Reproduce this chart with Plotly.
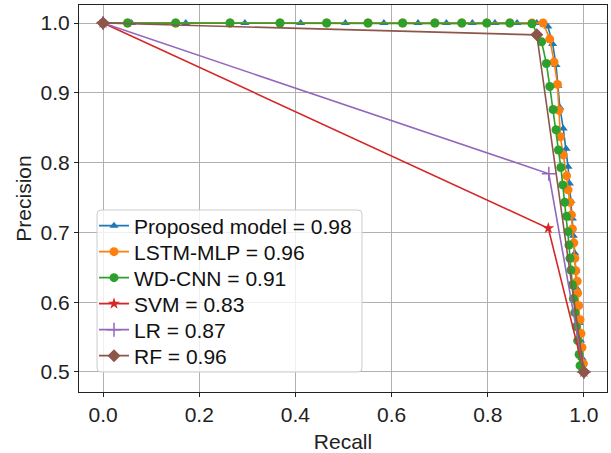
import plotly.graph_objects as go

# ---- data ----
names = ["Proposed model = 0.98", "LSTM-MLP = 0.96", "WD-CNN = 0.91", "SVM = 0.83", "LR = 0.87", "RF = 0.96"]

prop_recall = [0.0, 0.059, 0.172, 0.295, 0.411, 0.504, 0.584, 0.655, 0.714, 0.768, 0.815, 0.861, 0.902,
               0.925, 0.935, 0.942, 0.946, 0.950, 0.957, 0.963, 0.967, 0.970, 0.973, 0.976, 0.978, 0.981,
               0.983, 0.985, 0.988, 0.990, 0.993, 0.996, 1.0]
prop_prec = [1.0, 1.0, 1.0, 1.0, 1.0, 1.0, 1.0, 1.0, 1.0, 1.0, 1.0, 1.0, 1.0,
             0.995, 0.970, 0.940, 0.910, 0.879, 0.849, 0.820, 0.794, 0.770, 0.745, 0.720, 0.695, 0.670,
             0.645, 0.620, 0.595, 0.570, 0.545, 0.520, 0.5]

lstm_recall = [0.0, 0.051, 0.151, 0.264, 0.368, 0.465, 0.551, 0.623, 0.690, 0.746, 0.798, 0.846, 0.892, 0.915,
               0.929, 0.938, 0.945, 0.948, 0.951, 0.957, 0.964, 0.967, 0.971, 0.974, 0.976, 0.979, 0.981,
               0.983, 0.986, 0.987, 0.989, 0.992, 0.994, 0.996, 0.999, 1.0]
lstm_prec = [1.0, 1.0, 1.0, 1.0, 1.0, 1.0, 1.0, 1.0, 1.0, 1.0, 1.0, 1.0, 1.0, 1.0,
             0.977, 0.944, 0.912, 0.875, 0.837, 0.811, 0.781, 0.761, 0.743, 0.725, 0.705, 0.685, 0.663,
             0.645, 0.630, 0.613, 0.595, 0.575, 0.555, 0.535, 0.512, 0.5]

wd_recall = [0.0, 0.051, 0.151, 0.264, 0.368, 0.465, 0.551, 0.623, 0.690, 0.746, 0.798, 0.846, 0.892,
             0.912, 0.922, 0.929, 0.936, 0.942, 0.947, 0.952, 0.956, 0.960, 0.964, 0.967, 0.969, 0.971,
             0.973, 0.976, 0.978, 0.981, 0.984, 0.987, 0.990, 0.992, 1.0]
wd_prec = [1.0, 1.0, 1.0, 1.0, 1.0, 1.0, 1.0, 1.0, 1.0, 1.0, 1.0, 1.0, 0.999,
           0.973, 0.942, 0.909, 0.876, 0.847, 0.818, 0.793, 0.768, 0.743, 0.723, 0.701, 0.682, 0.663,
           0.646, 0.625, 0.605, 0.585, 0.565, 0.545, 0.525, 0.509, 0.5]

svm_recall = [0.0, 0.926, 1.0]
svm_prec = [1.0, 0.706, 0.5]

lr_recall = [0.0, 0.927, 1.0]
lr_prec = [1.0, 0.784, 0.5]

rf_recall = [0.0, 0.902, 1.0]
rf_prec = [1.0, 0.983, 0.5]

x_ticks = [0.0, 0.2, 0.4, 0.6, 0.8, 1.0]
y_ticks = [0.5, 0.6, 0.7, 0.8, 0.9, 1.0]

colors = ["#1f77b4", "#ff7f0e", "#2ca02c", "#d62728", "#9467bd", "#8c564b"]
symbols = ["triangle-up", "circle", "circle", "star", "cross-thin", "diamond"]
msizes = [8, 9, 9, 9, 10, 10]

series = [(prop_recall, prop_prec), (lstm_recall, lstm_prec), (wd_recall, wd_prec),
          (svm_recall, svm_prec), (lr_recall, lr_prec), (rf_recall, rf_prec)]

# ---- layout geometry (pixels) ----
W, H = 611, 453
ML, MR, MT, MB = 79, 4, 5, 61
PW, PH = W - ML - MR, H - MT - MB
LEG_LEFT, LEG_RIGHT, LEG_TOP, ROW_H = 97, 362, 210, 26


def px_x(p):
    return (p - ML) / PW


def px_y(p):
    return (H - MB - p) / PH


font = "Liberation Sans, Arial, sans-serif"
fig = go.Figure()
legend_layout = {}
for i, (xs, ys) in enumerate(series):
    key = "legend" if i == 0 else f"legend{i + 1}"
    fig.add_trace(go.Scatter(
        x=xs, y=ys, mode="lines+markers", name=names[i], legend=key,
        line=dict(color=colors[i], width=1.6),
        marker=dict(symbol=symbols[i], size=msizes[i], color=colors[i],
                    line=dict(color=colors[i], width=1.5 if symbols[i] == "cross-thin" else 0)),
    ))
    row_center = LEG_TOP + 3 + ROW_H * (i + 0.5)
    legend_layout[key] = dict(
        x=px_x(LEG_LEFT - 3), y=px_y(row_center), xanchor="left", yanchor="middle",
        bgcolor="rgba(0,0,0,0)", borderwidth=0, itemwidth=30,
        font=dict(size=21, family=font, color="#111"))

leg_bottom = LEG_TOP + 6 + ROW_H * len(series)
r = 4
x0, x1 = px_x(LEG_LEFT), px_x(LEG_RIGHT)
y0, y1 = px_y(leg_bottom), px_y(LEG_TOP)
rx, ry = r / PW, r / PH
path = (f"M{x0 + rx},{y1} L{x1 - rx},{y1} Q{x1},{y1} {x1},{y1 - ry} "
        f"L{x1},{y0 + ry} Q{x1},{y0} {x1 - rx},{y0} L{x0 + rx},{y0} "
        f"Q{x0},{y0} {x0},{y0 + ry} L{x0},{y1 - ry} Q{x0},{y1} {x0 + rx},{y1} Z")

fig.update_layout(
    width=W, height=H,
    margin=dict(l=ML, r=MR, t=MT, b=MB),
    paper_bgcolor="white", plot_bgcolor="white",
    font=dict(family=font, size=21, color="#222"),
    showlegend=True,
    shapes=[dict(type="path", path=path, xref="paper", yref="paper", layer="above",
                 fillcolor="rgba(255,255,255,0.8)", line=dict(color="#cccccc", width=1))],
    xaxis=dict(range=[-0.05, 1.048], tickvals=x_ticks, ticktext=[f"{v:.1f}" for v in x_ticks],
               showgrid=True, gridcolor="#b0b0b0", gridwidth=1, zeroline=False,
               showline=True, linecolor="#222", linewidth=1, mirror=True,
               ticks="outside", ticklen=4, tickcolor="#222", automargin=False,
               title=dict(text="Recall", font=dict(size=21), standoff=10)),
    yaxis=dict(range=[0.4713, 1.0258], tickvals=y_ticks, ticktext=[f"{v:.1f}" for v in y_ticks],
               showgrid=True, gridcolor="#b0b0b0", gridwidth=1, zeroline=False,
               showline=True, linecolor="#222", linewidth=1, mirror=True,
               ticks="outside", ticklen=4, tickcolor="#222", automargin=False,
               title=dict(text="Precision", font=dict(size=21), standoff=3)),
    **legend_layout,
)

fig.write_html("out.html", config={"displayModeBar": False},
               post_script="document.body.style.margin='0';")
